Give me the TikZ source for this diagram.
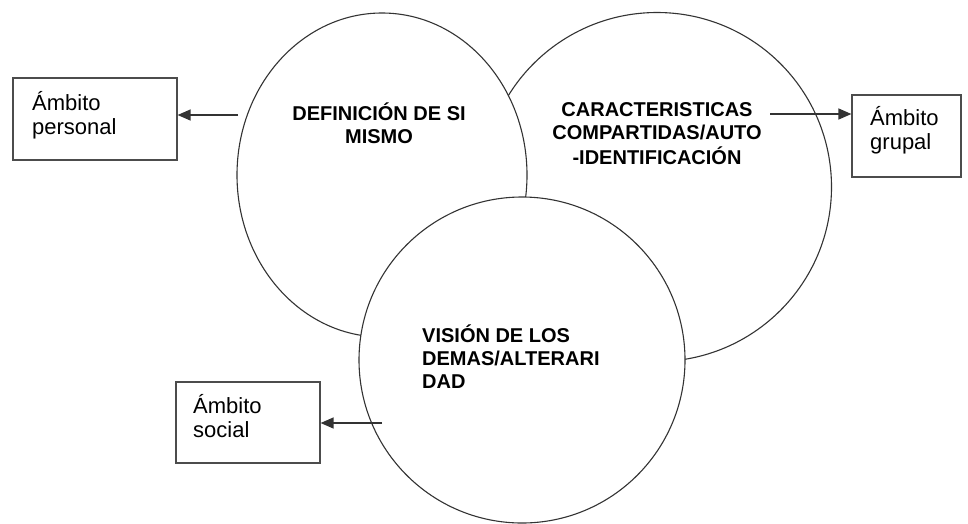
\documentclass[tikz,border=0pt]{standalone}
\usepackage{fontspec}
\setmainfont{Liberation Sans}
\usetikzlibrary{arrows.meta,shapes.geometric}
\begin{document}
\begin{tikzpicture}[x=1pt,y=-1pt,
  ring/.style={draw=black!80, line width=1.1pt, fill=white, inner sep=0pt},
  boxnode/.style={draw=black!70, line width=1.2pt, inner sep=0pt, fill=white},
  bigtext/.style={inner sep=0pt, font=\fontsize{20}{23}\selectfont\bfseries},
  lbl/.style={inner sep=0pt, font=\fontsize{22}{24}\selectfont, anchor=base west},
  arr/.style={draw=black!80, line width=1.3pt, -{Triangle[length=13pt,width=11pt]}}]
\useasboundingbox[fill=white] (0,0) rectangle (968,523);
% circles
\node[ring, circle, minimum size=349pt] (cr) at (657,187) {};
\node[ring, ellipse, minimum width=290pt, minimum height=324pt] (cl) at (382,175) {};
\node[ring, circle, minimum size=326pt] (cb) at (522,360) {};
% circle texts
\node[bigtext, anchor=base] (tl) at (379,120.7) {\begin{tabular}[t]{@{}c@{}}DEFINICIÓN DE SI\\MISMO\end{tabular}};
\node[bigtext, anchor=base] (tr) at (657,116.5) {\begin{tabular}[t]{@{}c@{}}CARACTERISTICAS\\COMPARTIDAS/AUTO\\-IDENTIFICACIÓN\end{tabular}};
\node[bigtext, anchor=base west] (tb) at (422,342) {\begin{tabular}[t]{@{}l@{}}VISIÓN DE LOS\\DEMAS/ALTERARI\\DAD\end{tabular}};
% boxes
\node[boxnode, minimum width=164pt, minimum height=82pt] (bp) at (95,119) {};
\node[boxnode, minimum width=109pt, minimum height=82pt] (bg) at (906.5,136) {};
\node[boxnode, minimum width=144pt, minimum height=81pt] (bs) at (248,422.5) {};
\node[lbl] (lp) at (32,110) {\begin{tabular}[t]{@{}l@{}}Ámbito\\personal\end{tabular}};
\node[lbl] (lg) at (870,125) {\begin{tabular}[t]{@{}l@{}}Ámbito\\grupal\end{tabular}};
\node[lbl] (ls) at (193,413) {\begin{tabular}[t]{@{}l@{}}Ámbito\\social\end{tabular}};
% arrows
\coordinate (ap) at (238,115);
\coordinate (ag) at (770,114);
\coordinate (as) at (382,423);
\draw[arr] (ap) -- (ap -| bp.east);
\draw[arr] (ag) -- (ag -| bg.west);
\draw[arr] (as) -- (as -| bs.east);
\end{tikzpicture}
\end{document}
